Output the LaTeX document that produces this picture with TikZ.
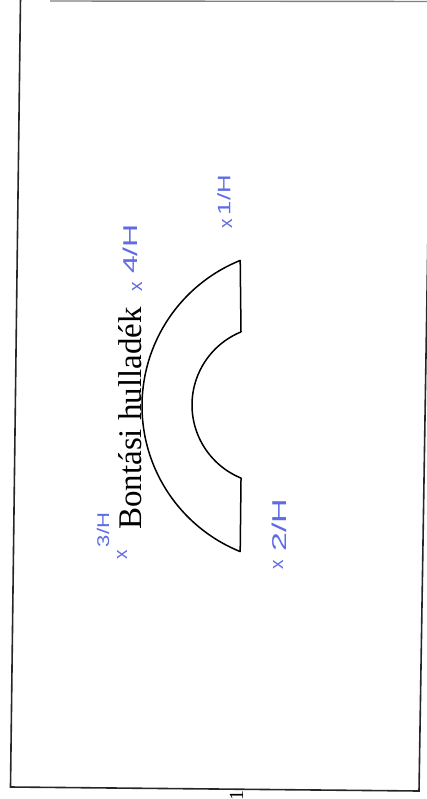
\documentclass[tikz,border=0pt]{standalone}
\usepackage{fontspec}
\setmainfont{Liberation Serif}
\newfontfamily\handfont{Liberation Sans}
\definecolor{pen}{RGB}{95,108,228}
\begin{document}
\begin{tikzpicture}[x=1pt,y=-1pt,
  frame/.style={line width=1.6pt, draw=black!85},
  topline/.style={line width=1.4pt, draw=black!50},
  shapeline/.style={line width=1.5pt, draw=black, line join=round},
  note/.style={text=pen, font=\handfont\fontsize{18}{18}\selectfont, rotate=90, inner sep=0pt},
  cross/.style={text=pen, font=\handfont\fontsize{19}{19}\selectfont, rotate=90, inner sep=0pt},
  title/.style={font=\fontsize{33}{33}\selectfont, rotate=90, inner sep=0pt, anchor=base west},
  pagenum/.style={font=\fontsize{20}{20}\selectfont, rotate=90, inner sep=0pt, anchor=base west}]
\useasboundingbox (0,0) rectangle (427,799);
\clip (0,0) rectangle (427,799);
% page frame
\coordinate (tl) at (20.5,-2);
\coordinate (bl) at (10.5,787);
\coordinate (br) at (419,791);
\coordinate (tr) at (428.5,200);
\draw[frame] (tl) -- (bl) -- (br) -- (tr);
\coordinate (ta) at (50,1);
\coordinate (tb) at (428,1.5);
\draw[topline] (ta) -- (tb);
% half ring
\draw[shapeline] (240.2,260.4) -- (241,331.9)
  -- plot[domain=247.7:112.3, samples=70] ({271+79*cos(\x)},{405+79*sin(\x)})
  -- plot[domain=112:248, samples=110] ({299+157*cos(\x)},{406+157*sin(\x)})
  -- cycle;
% label
\node[title] (lab) at (141.5,530) {Bontási hulladék};
% handwritten notes
\node[note, xscale=1.43] (n1) at (224,195) {1/H};
\node[cross] (x1) at (227,224) {x};
\node[note, xscale=1.6, font=\handfont\fontsize{20}{20}\selectfont] (n2) at (130,249) {4/H};
\node[cross] (x2) at (137,287) {x};
\node[note, xscale=1.3, font=\handfont\fontsize{17}{17}\selectfont] (n3) at (103,530) {3/H};
\node[cross] (x3) at (122,555) {x};
\node[note, xscale=1.7, font=\handfont\fontsize{20}{20}\selectfont] (n4) at (279,525) {2/H};
\node[cross] (x4) at (278,565) {x};
% page number (cut off)
\node[pagenum] (pn) at (243,801) {1};
\end{tikzpicture}
\end{document}
